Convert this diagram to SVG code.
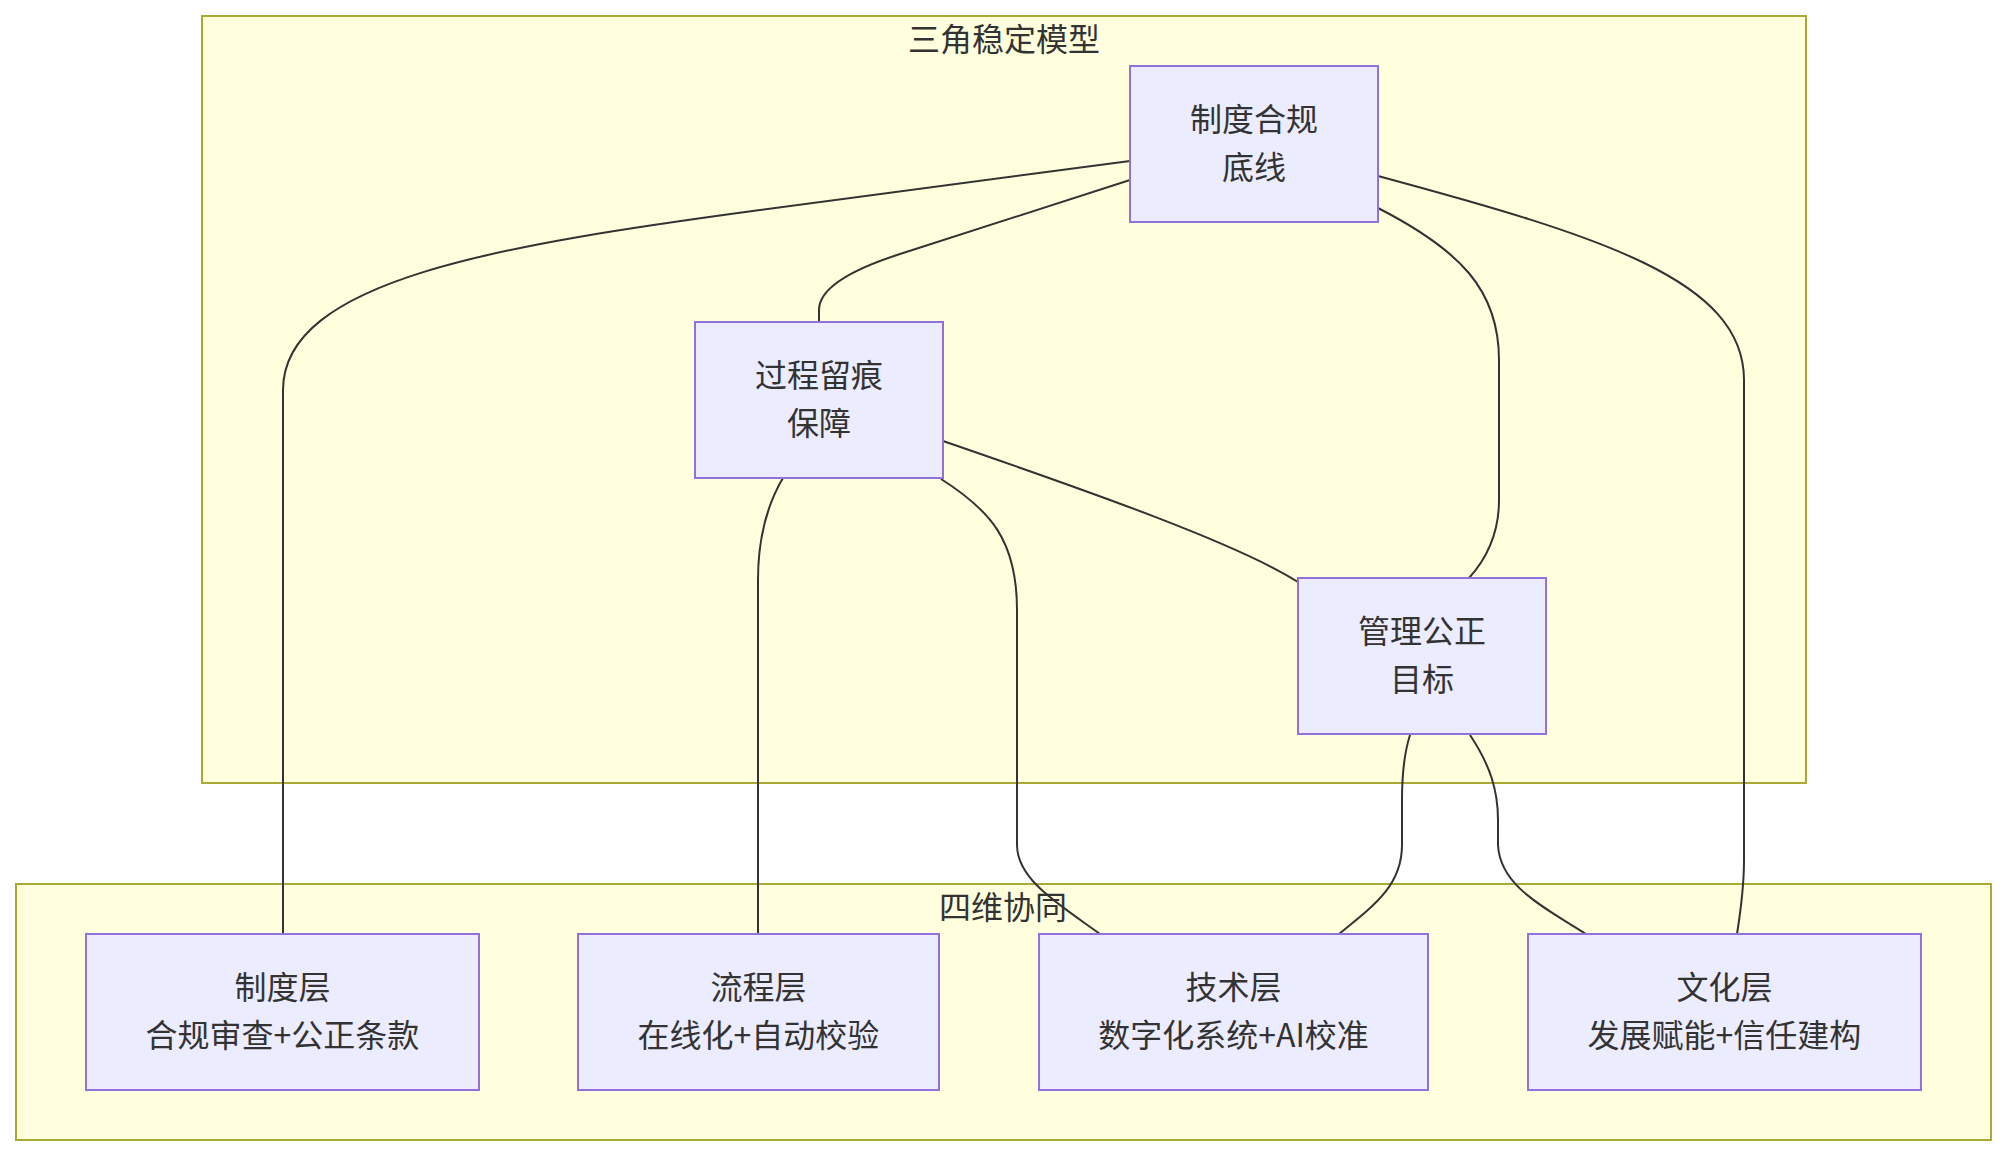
<svg xmlns="http://www.w3.org/2000/svg" width="2006" height="1156" viewBox="0 0 2006 1156">
<style>
.cluster{fill:#ffffde;stroke:#aaaa33;stroke-width:2}
.node rect{fill:#ececff;stroke:#9370db;stroke-width:2}
text{font-family:"Noto Sans CJK SC","Noto Sans",sans-serif;font-size:32px;fill:#333;text-anchor:middle;dominant-baseline:central}
.edge{fill:none;stroke:#333;stroke-width:2}
</style>
<rect width="2006" height="1156" fill="#ffffff"/>
<g id="cluster-triangle">
<rect class="cluster" x="202" y="16" width="1604" height="767"/>
<text x="1004" y="37">三角稳定模型</text>
</g>
<g id="cluster-four">
<rect class="cluster" x="16" y="884" width="1975" height="256"/>
<text x="1003" y="905">四维协同</text>
</g>
<g id="edges">
<path class="edge" d="M1130,161 L760,210 C500,245 283,280 283,390 L283,934"/>
<path class="edge" d="M1130,180 L900,254 Q819,280 819,310 L819,322"/>
<path class="edge" d="M1378,208 C1460,250 1499,290 1499,360 L1499,500 Q1499,545 1469,578"/>
<path class="edge" d="M1378,176 C1600,236 1744,280 1744,380 L1744,860 Q1744,890 1737,934"/>
<path class="edge" d="M783,478 Q758,520 758,580 L758,934"/>
<path class="edge" d="M941,479 C990,510 1017,540 1017,610 L1017,845 C1017,880 1060,905 1100,934"/>
<path class="edge" d="M943,441 C1100,495 1240,545 1298,582"/>
<path class="edge" d="M1410,735 Q1402,760 1402,800 L1402,845 C1402,885 1375,905 1339,934"/>
<path class="edge" d="M1470,735 C1490,765 1498,790 1498,820 L1498,845 C1500,885 1540,905 1586,934"/>
</g>
<g id="node-zhidu-hegui" class="node">
<rect x="1130" y="66" width="248" height="156"/>
<text x="1254" y="117">制度合规</text>
<text x="1254" y="165">底线</text>
</g>
<g id="node-guocheng" class="node">
<rect x="695" y="322" width="248" height="156"/>
<text x="819" y="373">过程留痕</text>
<text x="819" y="421">保障</text>
</g>
<g id="node-guanli" class="node">
<rect x="1298" y="578" width="248" height="156"/>
<text x="1422" y="629">管理公正</text>
<text x="1422" y="677">目标</text>
</g>
<g id="node-zhiduceng" class="node">
<rect x="86" y="934" width="393" height="156"/>
<text x="282.5" y="985">制度层</text>
<text x="282.5" y="1033">合规审查+公正条款</text>
</g>
<g id="node-liucheng" class="node">
<rect x="578" y="934" width="361" height="156"/>
<text x="758.5" y="985">流程层</text>
<text x="758.5" y="1033">在线化+自动校验</text>
</g>
<g id="node-jishu" class="node">
<rect x="1039" y="934" width="389" height="156"/>
<text x="1233.5" y="985">技术层</text>
<text x="1233.5" y="1033">数字化系统+AI校准</text>
</g>
<g id="node-wenhua" class="node">
<rect x="1528" y="934" width="393" height="156"/>
<text x="1724.5" y="985">文化层</text>
<text x="1724.5" y="1033">发展赋能+信任建构</text>
</g>
</svg>
